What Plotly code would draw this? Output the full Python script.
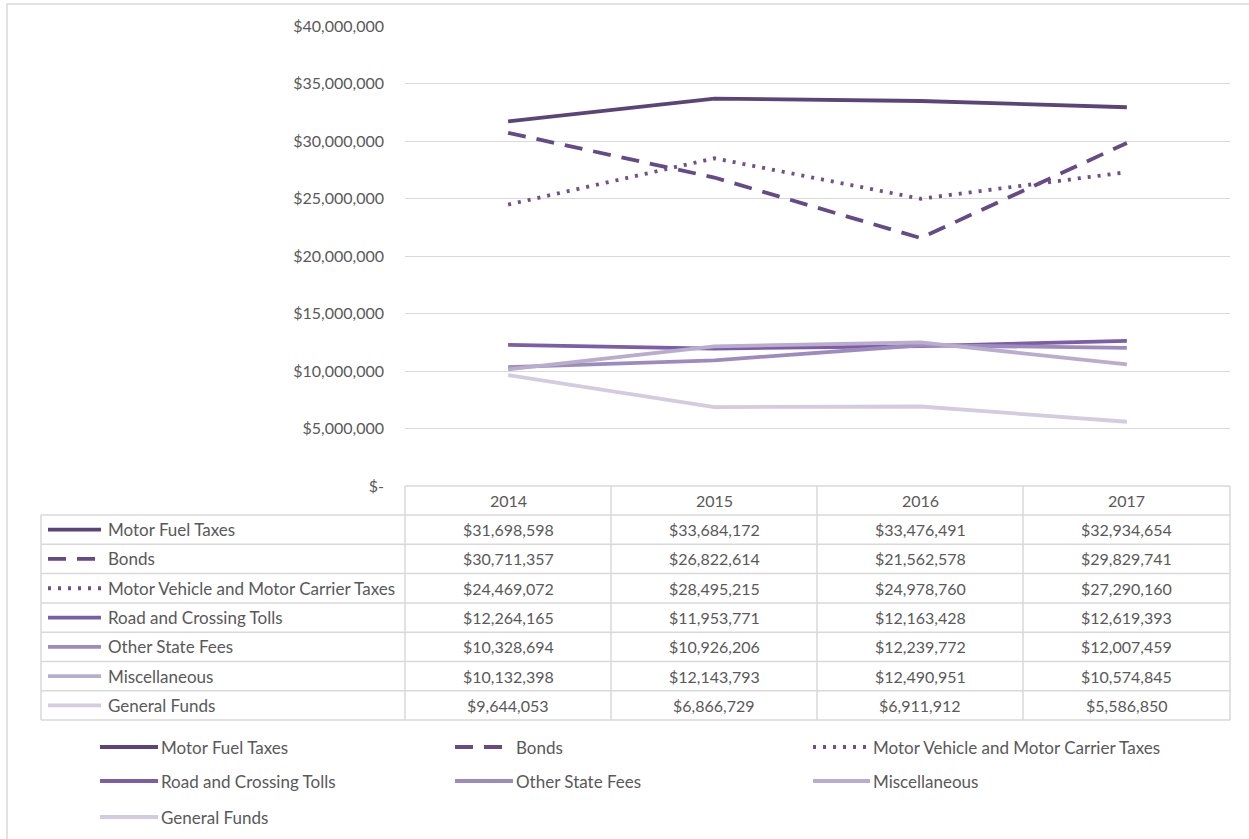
import plotly.graph_objects as go

# ---------------- data ----------------
years = ["2014", "2015", "2016", "2017"]
series_names = [
    "Motor Fuel Taxes",
    "Bonds",
    "Motor Vehicle and Motor Carrier Taxes",
    "Road and Crossing Tolls",
    "Other State Fees",
    "Miscellaneous",
    "General Funds",
]
motor_fuel_taxes = [31698598, 33684172, 33476491, 32934654]
bonds = [30711357, 26822614, 21562578, 29829741]
motor_vehicle_taxes = [24469072, 28495215, 24978760, 27290160]
road_crossing_tolls = [12264165, 11953771, 12163428, 12619393]
other_state_fees = [10328694, 10926206, 12239772, 12007459]
miscellaneous = [10132398, 12143793, 12490951, 10574845]
general_funds = [9644053, 6866729, 6911912, 5586850]
series_values = [motor_fuel_taxes, bonds, motor_vehicle_taxes, road_crossing_tolls,
                 other_state_fees, miscellaneous, general_funds]
y_tick_values = [0, 5000000, 10000000, 15000000, 20000000, 25000000, 30000000, 35000000, 40000000]

# ---------------- styles ----------------
colors = ["#5b4578", "#644a87", "#6c5091", "#7b5ea6", "#9e8bbd", "#b9accf", "#d3cbe0"]
dashes = ["solid", "18px,11px", "3px,7px", "solid", "solid", "solid", "solid"]
W, H = 1249, 839
FONT = "Lato, 'Open Sans', sans-serif"
TXT = "#595959"
GRID = "#d9d9d9"
LABEL_SIZE = 17
NUM_SIZE = 16
LW = 3.8


def px(x):
    return x / W


def py(y):
    return 1 - y / H


def fmt_money(v):
    return "$-" if v == 0 else "${:,.0f}".format(v)


fig = go.Figure()
for name, vals, col, dash in zip(series_names, series_values, colors, dashes):
    fig.add_trace(go.Scatter(
        x=years, y=vals, mode="lines", name=name, showlegend=False,
        line=dict(color=col, width=LW, dash=dash),
        hovertemplate="%{y:$,.0f}<extra>" + name + "</extra>",
    ))

plot_l, plot_r, plot_t, plot_b = 405, 1230, 26, 486
fig.update_layout(
    width=W, height=H,
    autosize=False,
    margin=dict(l=0, r=0, t=0, b=0, pad=0),
    paper_bgcolor="white", plot_bgcolor="white",
    font=dict(family=FONT, color=TXT, size=NUM_SIZE),
    xaxis=dict(domain=[px(plot_l), px(plot_r)], type="category", range=[-0.5, 3.5],
               visible=False, fixedrange=True, automargin=False),
    yaxis=dict(domain=[py(plot_b), py(plot_t)], range=[0, 40000000],
               tickvals=y_tick_values, ticktext=[fmt_money(v) for v in y_tick_values],
               showgrid=True, gridcolor=GRID, gridwidth=1, zeroline=False, showline=False,
               automargin=False, fixedrange=True,
               ticks="", ticklabelstandoff=20, tickfont=dict(size=NUM_SIZE, color=TXT, family=FONT)),
    showlegend=False,
)

shapes = []
# outer chart border
shapes.append(dict(type="rect", xref="paper", yref="paper", x0=px(7), x1=px(1262), y0=py(4), y1=py(852),
                   line=dict(color=GRID, width=1.5)))

# ---------------- data table ----------------
col_edges = [405, 611, 817, 1023, 1230]
table_left = 41
header_top = 486
row_top = 515
row_h = 29.3
n_rows = len(series_names)
table_bottom = row_top + n_rows * row_h

shapes.append(dict(type="line", xref="paper", yref="paper", x0=px(col_edges[0]), x1=px(col_edges[-1]),
                   y0=py(header_top), y1=py(header_top), line=dict(color=GRID, width=1.5)))
for i in range(n_rows + 1):
    yy = row_top + i * row_h
    shapes.append(dict(type="line", xref="paper", yref="paper", x0=px(table_left), x1=px(col_edges[-1]),
                       y0=py(yy), y1=py(yy), line=dict(color=GRID, width=1.5)))
shapes.append(dict(type="line", xref="paper", yref="paper", x0=px(table_left), x1=px(table_left),
                   y0=py(row_top), y1=py(table_bottom), line=dict(color=GRID, width=1.5)))
for xe in col_edges:
    shapes.append(dict(type="line", xref="paper", yref="paper", x0=px(xe), x1=px(xe),
                       y0=py(header_top), y1=py(table_bottom), line=dict(color=GRID, width=1.5)))

annotations = []
for j, yr in enumerate(years):
    cx = (col_edges[j] + col_edges[j + 1]) / 2
    annotations.append(dict(x=px(cx), y=py((header_top + row_top) / 2), xref="paper", yref="paper",
                            text=yr, showarrow=False, xanchor="center", yanchor="middle",
                            font=dict(size=NUM_SIZE, color=TXT, family=FONT)))

for i, (name, vals, col, dash) in enumerate(zip(series_names, series_values, colors, dashes)):
    cy = row_top + (i + 0.5) * row_h
    shapes.append(dict(type="line", xref="paper", yref="paper", x0=px(48), x1=px(101),
                       y0=py(cy), y1=py(cy), line=dict(color=col, width=LW, dash=dash)))
    annotations.append(dict(x=px(106), y=py(cy), xref="paper", yref="paper", text=name,
                            showarrow=False, xanchor="left", yanchor="middle",
                            font=dict(size=LABEL_SIZE, color=TXT, family=FONT)))
    for j, v in enumerate(vals):
        cx = (col_edges[j] + col_edges[j + 1]) / 2
        annotations.append(dict(x=px(cx), y=py(cy), xref="paper", yref="paper", text=fmt_money(v),
                                showarrow=False, xanchor="center", yanchor="middle",
                                font=dict(size=NUM_SIZE, color=TXT, family=FONT)))

# ---------------- legend (3 columns) ----------------
leg_cols = [(100, 158), (455, 513), (813, 870)]
leg_rows = [747, 781, 817]
for k, (name, col, dash) in enumerate(zip(series_names, colors, dashes)):
    r, c = divmod(k, 3)
    x0, x1 = leg_cols[c]
    yy = leg_rows[r]
    shapes.append(dict(type="line", xref="paper", yref="paper", x0=px(x0), x1=px(x1),
                       y0=py(yy), y1=py(yy), line=dict(color=col, width=LW, dash=dash)))
    annotations.append(dict(x=px(x1 + 1), y=py(yy), xref="paper", yref="paper", text=name,
                            showarrow=False, xanchor="left", yanchor="middle",
                            font=dict(size=LABEL_SIZE, color=TXT, family=FONT)))

fig.update_layout(shapes=shapes, annotations=annotations)
fig.write_html("out.html", config={"displayModeBar": False},
               post_script="document.body.style.margin='0';document.body.style.overflow='hidden';")
